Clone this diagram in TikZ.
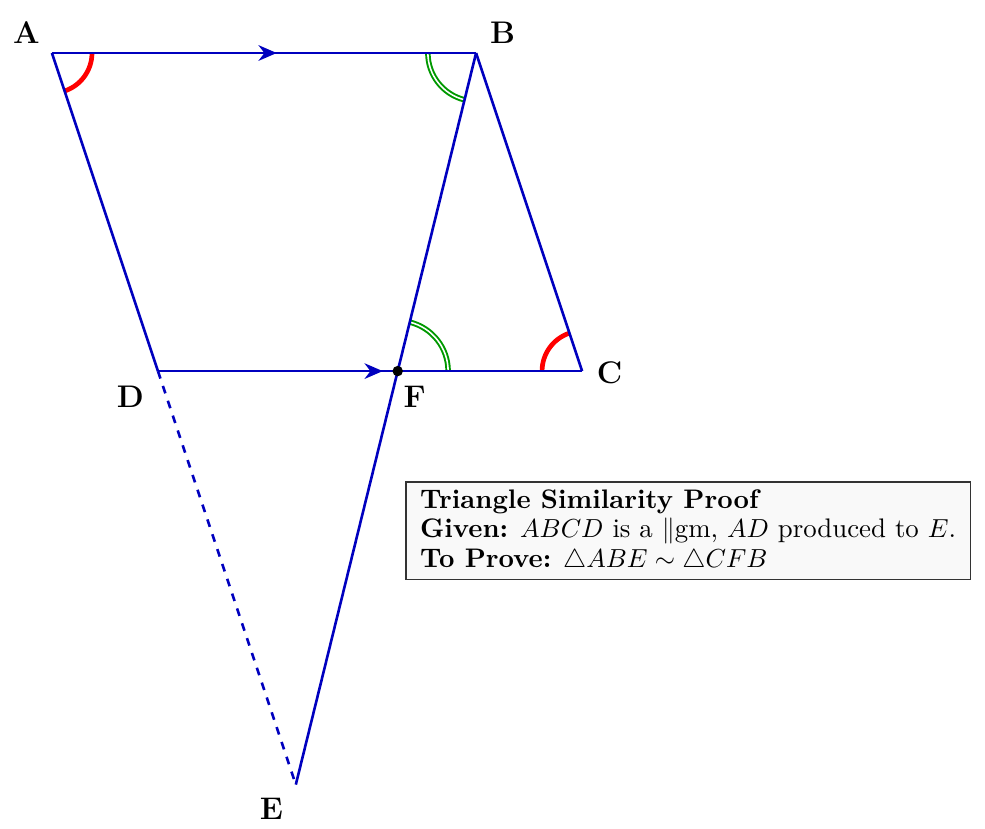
\documentclass[tikz,border=0pt]{standalone}
\usepackage{amsmath, amssymb}
\usepackage{tikz}
\usetikzlibrary{calc, angles, arrows.meta, decorations.markings}

\tikzset{
  side/.style={draw=blue!75!black, line width=1pt},
  midarrow/.style={postaction={decorate}, decoration={markings,
      mark=at position 0.53 with {\arrow[blue!75!black]{Stealth[length=7pt,width=6pt]}}}},
  redangle/.style={draw=red, line width=1.8pt, angle radius=0.54cm},
  greenangle/.style={draw=green!60!black, double, line width=0.75pt, double distance=0.6pt},
  ptlabel/.style={font=\large\bfseries, inner sep=0pt},
  infobox/.style={draw=black!80, fill=gray!5, align=left, inner xsep=5.5pt, inner ysep=2.8pt,
      line width=0.6pt, font=\fontsize{10.3pt}{11.3pt}\selectfont}
}

\begin{document}
\begin{tikzpicture}[x=1.43cm, y=1.43cm]
    \useasboundingbox (-0.49,0.5) rectangle (8.80,-7.31);

    % Points
    \coordinate (A) at (0, 0);
    \coordinate (B) at (4, 0);
    \coordinate (C) at (5, -3);
    \coordinate (D) at (1, -3);
    \coordinate (E) at (2.3, -6.9);
    \coordinate (F) at ($(B)!{3/6.9}!(E)$);

    % Angle marks
    \pic[redangle] {angle = D--A--B};
    \pic[redangle] {angle = B--C--D};
    \pic[greenangle, angle radius=0.65cm] {angle = A--B--E};
    \pic[greenangle, angle radius=0.68cm] {angle = C--F--B};

    % Parallelogram and lines
    \draw[side, midarrow] (A) -- (B);
    \draw[side] (B) -- (C);
    \draw[side, midarrow] (D) -- (C);
    \draw[side] (A) -- (D);
    \draw[side, dashed] (D) -- (E);
    \draw[side] (B) -- (E);
    \fill (F) circle (2pt);

    % Labels
    \node[ptlabel] (lA) at ($(A)+(-0.24,0.19)$) {A};
    \node[ptlabel] (lB) at ($(B)+(0.25,0.19)$) {B};
    \node[ptlabel] (lC) at ($(C)+(0.26,-0.02)$) {C};
    \node[ptlabel] (lD) at ($(D)+(-0.26,-0.24)$) {D};
    \node[ptlabel] (lF) at ($(F)+(0.16,-0.24)$) {F};
    \node[ptlabel] (lE) at ($(E)+(-0.23,-0.23)$) {E};

    % Info box
    \node[infobox, anchor=north west] (info) at (3.33, -4.04) {%
      \textbf{Triangle Similarity Proof}\\
      \textbf{Given:} $ABCD$ is a $\parallel$gm, $AD$ produced to $E$.\\
      \textbf{To Prove:} $\triangle ABE \sim \triangle CFB$};
\end{tikzpicture}
\end{document}
